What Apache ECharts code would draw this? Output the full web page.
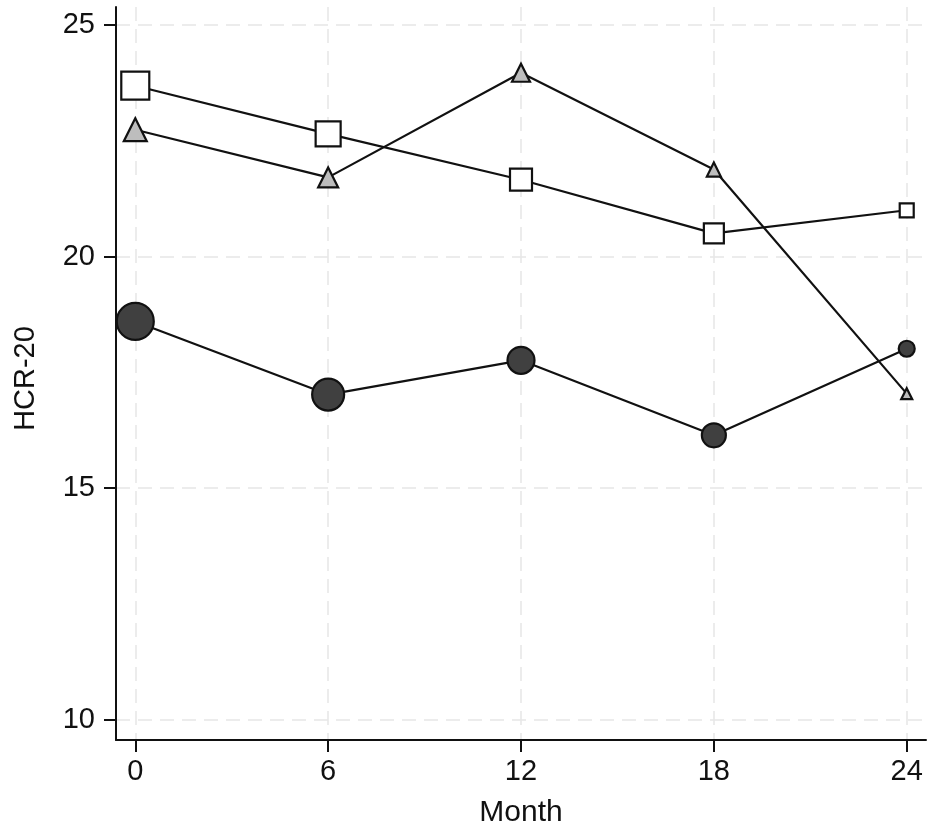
<!DOCTYPE html>
<html>
<head>
<meta charset="utf-8">
<title>HCR-20 by month</title>
<script src="https://cdn.jsdelivr.net/npm/echarts@6/dist/echarts.min.js"></script>
<style>
  html, body { margin: 0; padding: 0; background: #fff; }
  #main { width: 945px; height: 838px; }
</style>
</head>
<body>
<div id="main"></div>
<script>
// months on the x axis
var months = [0, 6, 12, 18, 24];
var yTicks = [10, 15, 20, 25];

// mean HCR-20 per group
var squareVals = [23.69, 22.65, 21.66, 20.50, 21.00];
var triangleVals = [22.74, 21.71, 23.97, 21.88, 17.04];
var circleVals = [18.60, 17.02, 17.76, 16.14, 18.01];

// marker sizes (px) shrink over time, as in the original
var squareSizes = [28, 25, 22, 20, 14];
var triangleSizes = [23, 20, 18, 14, 11];
var circleSizes = [37, 32, 27, 24, 16];

var font = 'Liberation Sans, Arial, Helvetica, sans-serif';
var ink = '#111';

function pairs(vals) {
  return months.map(function (m, i) { return [m, vals[i]]; });
}

function makeSeries(name, vals, sizes, symbol, fill) {
  return {
    name: name,
    type: 'line',
    data: pairs(vals),
    symbol: symbol,
    symbolSize: function (v, p) { return sizes[p.dataIndex]; },
    showAllSymbol: true,
    lineStyle: { color: ink, width: 2.2 },
    itemStyle: { color: fill, borderColor: ink, borderWidth: 2.2 },
    emphasis: { disabled: true },
    animation: false
  };
}

var chart = echarts.init(document.getElementById('main'), null, { renderer: 'canvas' });

var option = {
  backgroundColor: '#fff',
  grid: { left: 116, right: 19, top: 7, bottom: 98 },
  xAxis: {
    type: 'value',
    min: -0.6,
    max: 24.6,
    name: 'Month',
    nameLocation: 'middle',
    nameGap: 58,
    nameTextStyle: { fontFamily: font, fontSize: 30, color: ink },
    axisLine: { show: true, onZero: false, lineStyle: { color: ink, width: 2 } },
    axisTick: { show: true, length: 12, customValues: months, lineStyle: { color: ink, width: 2 } },
    axisLabel: { customValues: months, margin: 17, fontFamily: font, fontSize: 29, color: ink },
    splitLine: { show: true, lineStyle: { color: '#e6e6e6', width: 1.5, type: [14, 8] } }
  },
  yAxis: {
    type: 'value',
    min: 9.56,
    max: 25.39,
    name: 'HCR-20',
    nameLocation: 'middle',
    nameGap: 76,
    nameTextStyle: { fontFamily: font, fontSize: 29, color: ink, padding: [0, 10, 0, 0] },
    axisLine: { show: true, onZero: false, lineStyle: { color: ink, width: 2 } },
    axisTick: { show: true, length: 12, customValues: yTicks, lineStyle: { color: ink, width: 2 } },
    axisLabel: { customValues: yTicks, margin: 21, fontFamily: font, fontSize: 29, color: ink },
    splitLine: { show: true, lineStyle: { color: '#e6e6e6', width: 1.5, type: [14, 8] } }
  },
  series: [
    makeSeries('Circle group', circleVals, circleSizes, 'circle', '#404040'),
    makeSeries('Square group', squareVals, squareSizes, 'rect', '#ffffff'),
    makeSeries('Triangle group', triangleVals, triangleSizes, 'triangle', '#bdbdbd')
  ]
};

chart.setOption(option);
</script>
</body>
</html>
